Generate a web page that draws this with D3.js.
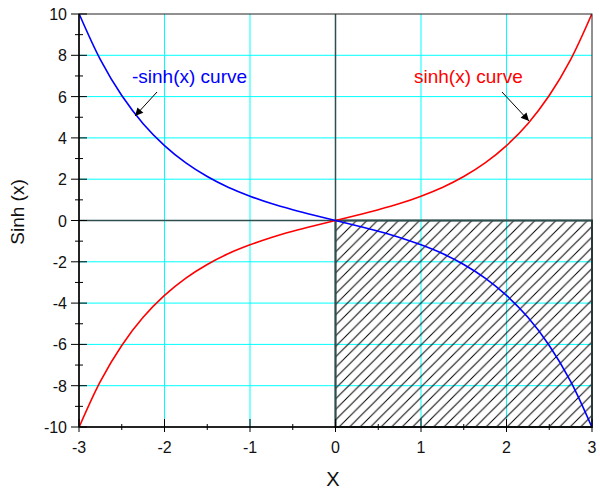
<!DOCTYPE html>
<html lang="en">
<head>
<meta charset="utf-8">
<script src="https://d3js.org/d3.v7.min.js"></script>
<style>
  body { margin: 0; background: white; }
  svg { font-family: 'Liberation Sans', Arial, sans-serif; }
  .grid line { stroke: #00FFFF; stroke-width: 1; }
  .tick-label { font-size: 16px; fill: #111; }
</style>
</head>
<body>
<svg width="600" height="491"></svg>
<script>
// values, x step 0.25
const xValues = [-3, -2.75, -2.5, -2.25, -2, -1.75, -1.5, -1.25, -1, -0.75, -0.5, -0.25,
  0, 0.25, 0.5, 0.75, 1, 1.25, 1.5, 1.75, 2, 2.25, 2.5, 2.75, 3];
const sinhValues = [-10.02, -7.79, -6.05, -4.69, -3.63, -2.79, -2.13, -1.60, -1.18, -0.82, -0.52, -0.25,
  0, 0.25, 0.52, 0.82, 1.18, 1.60, 2.13, 2.79, 3.63, 4.69, 6.05, 7.79, 10.02];
const negSinhValues = [10.02, 7.79, 6.05, 4.69, 3.63, 2.79, 2.13, 1.60, 1.18, 0.82, 0.52, 0.25,
  0, -0.25, -0.52, -0.82, -1.18, -1.60, -2.13, -2.79, -3.63, -4.69, -6.05, -7.79, -10.02];
const xTicks = [-3, -2, -1, 0, 1, 2, 3];
const xMinorTicks = [-2.5, -1.5, -0.5, 0.5, 1.5, 2.5];
const yTicks = [-10, -8, -6, -4, -2, 0, 2, 4, 6, 8, 10];
const yMinorTicks = [-9, -7, -5, -3, -1, 1, 3, 5, 7, 9];
const shadedBox = { x0: 0, x1: 3, y0: -10, y1: 0 };

const margin = { top: 14, right: 8, bottom: 64, left: 79 };
const width = 600, height = 491;
const x = d3.scaleLinear().domain([-3, 3]).range([margin.left, width - margin.right]);
const y = d3.scaleLinear().domain([-10, 10]).range([height - margin.bottom, margin.top]);

const svg = d3.select("svg");
const defs = svg.append("defs");

const hs = 10.5;
const hatch = defs.append("pattern")
  .attr("id", "hatch")
  .attr("patternUnits", "userSpaceOnUse")
  .attr("width", hs).attr("height", hs)
  .attr("patternTransform", "translate(" + x(0) + "," + y(0) + ")");
hatch.append("path")
  .attr("d", `M-1,1 l2,-2 M0,${hs} l${hs},-${hs} M${hs - 1},${hs + 1} l2,-2`)
  .attr("stroke", "#000").attr("stroke-width", 1);

defs.append("clipPath").attr("id", "plot-clip")
  .append("rect")
  .attr("x", x(-3)).attr("y", y(10))
  .attr("width", x(3) - x(-3)).attr("height", y(-10) - y(10));

defs.append("marker")
  .attr("id", "arrow")
  .attr("viewBox", "0 0 10 10")
  .attr("refX", 10).attr("refY", 5)
  .attr("markerWidth", 10).attr("markerHeight", 8)
  .attr("markerUnits", "userSpaceOnUse")
  .attr("orient", "auto")
  .append("path").attr("d", "M0,0 L10,5 L0,10 z").attr("fill", "#000");

// grid
const grid = svg.append("g").attr("class", "grid");
grid.selectAll(".gx").data(xTicks.filter(d => d !== 0 && Math.abs(d) !== 3)).enter()
  .append("line")
  .attr("x1", d => x(d)).attr("x2", d => x(d))
  .attr("y1", y(10)).attr("y2", y(-10));
grid.selectAll(".gy").data(yTicks.filter(d => d !== 0 && Math.abs(d) !== 10)).enter()
  .append("line")
  .attr("x1", x(-3)).attr("x2", x(3))
  .attr("y1", d => y(d)).attr("y2", d => y(d));

// hatched rectangle
svg.append("rect")
  .attr("x", x(shadedBox.x0)).attr("y", y(shadedBox.y1))
  .attr("width", x(shadedBox.x1) - x(shadedBox.x0))
  .attr("height", y(shadedBox.y0) - y(shadedBox.y1))
  .attr("fill", "url(#hatch)");

// zero lines
svg.append("line")
  .attr("x1", x(0)).attr("x2", x(0)).attr("y1", y(10)).attr("y2", y(-10))
  .attr("stroke", "#2F4F4F").attr("stroke-width", 1.5);
svg.append("line")
  .attr("x1", x(-3)).attr("x2", x(3)).attr("y1", y(0)).attr("y2", y(0))
  .attr("stroke", "#2F4F4F").attr("stroke-width", 1.5);

svg.append("rect")
  .attr("x", x(shadedBox.x0)).attr("y", y(shadedBox.y1))
  .attr("width", x(shadedBox.x1) - x(shadedBox.x0))
  .attr("height", y(shadedBox.y0) - y(shadedBox.y1))
  .attr("fill", "none").attr("stroke", "#2F4F4F").attr("stroke-width", 2);

// curves
const line = d3.line().x((d, i) => x(xValues[i])).y(d => y(d)).curve(d3.curveCatmullRom);
const curves = svg.append("g").attr("clip-path", "url(#plot-clip)");
curves.append("path").datum(sinhValues)
  .attr("d", line).attr("fill", "none").attr("stroke", "#FF0000").attr("stroke-width", 1.6);
curves.append("path").datum(negSinhValues)
  .attr("d", line).attr("fill", "none").attr("stroke", "#0000FF").attr("stroke-width", 1.6);

// frame
svg.append("rect")
  .attr("x", x(-3)).attr("y", y(10))
  .attr("width", x(3) - x(-3)).attr("height", y(-10) - y(10))
  .attr("fill", "none").attr("stroke", "#222").attr("stroke-width", 1);
svg.append("line")
  .attr("x1", x(-3)).attr("x2", x(-3)).attr("y1", y(10)).attr("y2", y(-10))
  .attr("stroke", "#000").attr("stroke-width", 1.5);
svg.append("line")
  .attr("x1", x(-3)).attr("x2", x(3)).attr("y1", y(-10)).attr("y2", y(-10))
  .attr("stroke", "#000").attr("stroke-width", 1.5);

// ticks
const ticks = svg.append("g").attr("stroke", "#000").attr("stroke-width", 1);
ticks.selectAll(".xt").data(xTicks).enter().append("line")
  .attr("x1", d => x(d)).attr("x2", d => x(d))
  .attr("y1", y(-10) - 8).attr("y2", y(-10) + 5);
ticks.selectAll(".xm").data(xMinorTicks).enter().append("line")
  .attr("x1", d => x(d)).attr("x2", d => x(d))
  .attr("y1", y(-10) - 3).attr("y2", y(-10) + 3);
ticks.selectAll(".yt").data(yTicks).enter().append("line")
  .attr("x1", x(-3) - 8).attr("x2", x(-3) + 8)
  .attr("y1", d => y(d)).attr("y2", d => y(d));
ticks.selectAll(".ym").data(yMinorTicks).enter().append("line")
  .attr("x1", x(-3) - 4).attr("x2", x(-3) + 4)
  .attr("y1", d => y(d)).attr("y2", d => y(d));

// tick labels
svg.selectAll(".xl").data(xTicks).enter().append("text")
  .attr("class", "tick-label")
  .attr("x", d => x(d)).attr("y", y(-10) + 26)
  .attr("text-anchor", "middle").text(d => d);
svg.selectAll(".yl").data(yTicks).enter().append("text")
  .attr("class", "tick-label")
  .attr("x", x(-3) - 12).attr("y", d => y(d) + 6)
  .attr("text-anchor", "end").text(d => d);

// axis titles
svg.append("text").attr("x", 333).attr("y", 486)
  .attr("text-anchor", "middle").attr("font-size", 20).attr("fill", "#111").text("X");
svg.append("text")
  .attr("transform", "translate(24,212) rotate(-90)")
  .attr("text-anchor", "middle").attr("font-size", 19).attr("fill", "#111").text("Sinh (x)");

// annotations
svg.append("text").attr("x", 132).attr("y", 83)
  .attr("font-size", 19).attr("fill", "#0000FF").text("-sinh(x) curve");
svg.append("line")
  .attr("x1", 157).attr("y1", 92).attr("x2", 135).attr("y2", 116)
  .attr("stroke", "#000").attr("stroke-width", 1).attr("marker-end", "url(#arrow)");
svg.append("text").attr("x", 414).attr("y", 83)
  .attr("font-size", 19).attr("fill", "#FF0000").text("sinh(x) curve");
svg.append("line")
  .attr("x1", 502).attr("y1", 92).attr("x2", 529).attr("y2", 121)
  .attr("stroke", "#000").attr("stroke-width", 1).attr("marker-end", "url(#arrow)");
</script>
</body>
</html>
